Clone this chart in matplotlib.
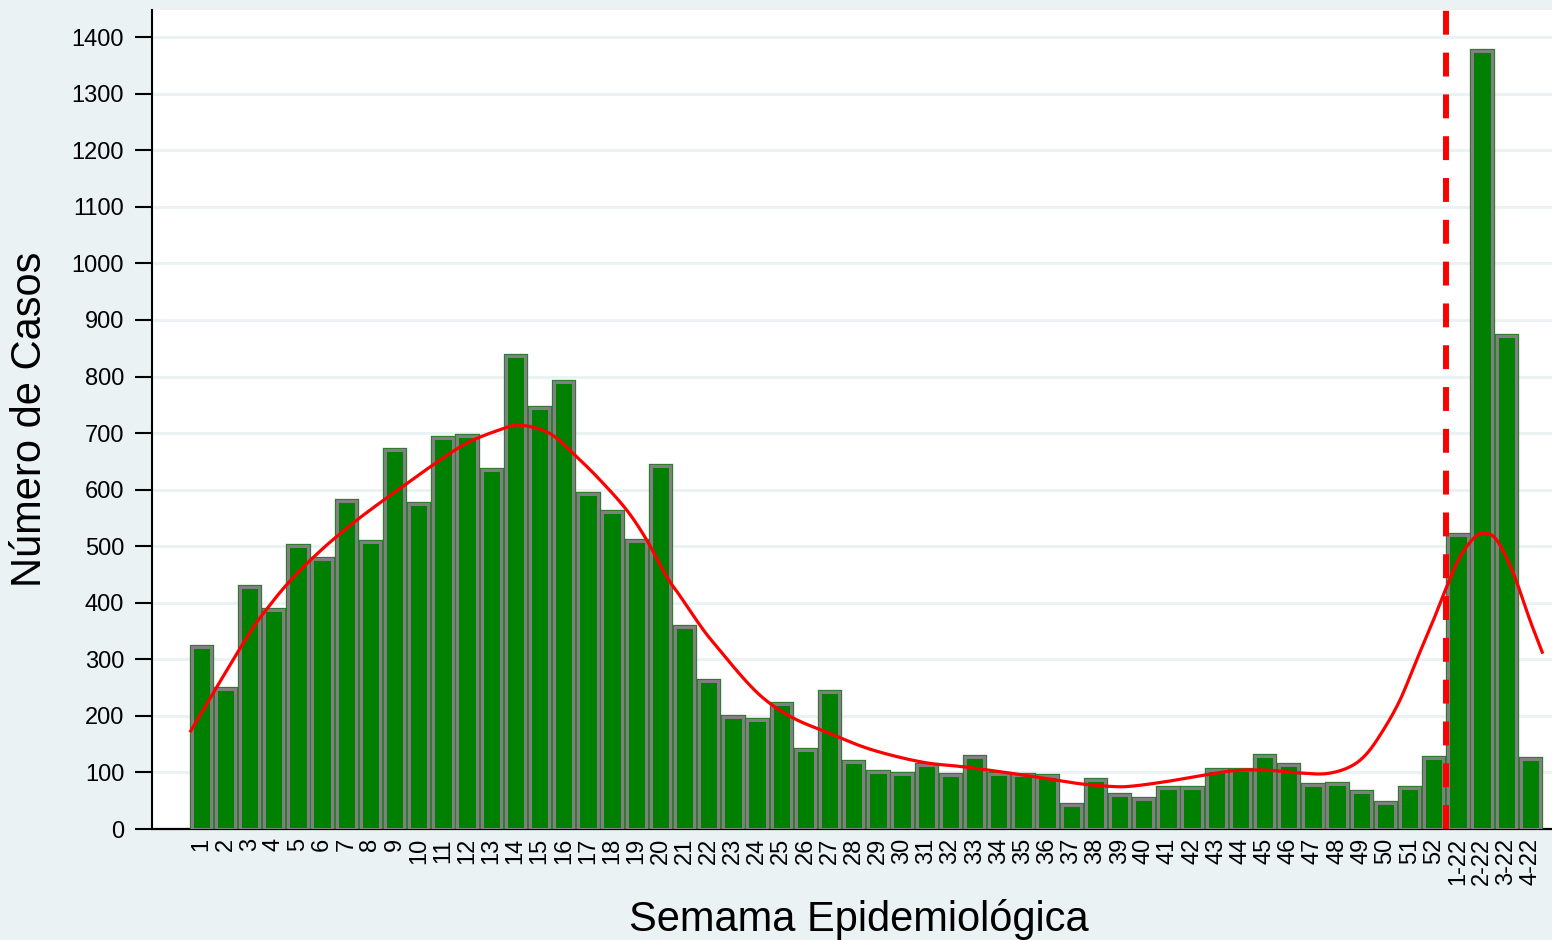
import numpy as np
import matplotlib
matplotlib.use('Agg')
import matplotlib.pyplot as plt
import matplotlib.patheffects as pe

plt.rcParams['font.family'] = ['Liberation Sans', 'DejaVu Sans']

# Semanas epidemiologicas y casos
semanas = [str(i) for i in range(1, 53)] + ['1-22', '2-22', '3-22', '4-22']
casos = [322, 247, 427, 388, 501, 478, 580, 508, 670, 574,
         691, 695, 635, 837, 744, 791, 592, 561, 510, 642,
         357, 262, 198, 192, 221, 139, 243, 119, 101, 97,
         113, 96, 128, 97, 96, 94, 43, 87, 60, 53,
         72, 72, 105, 105, 129, 113, 78, 80, 66, 46,
         73, 126, 520, 1376, 872, 123]

# Curva suavizada (posicion en el eje de semanas, valor)
curva_x = [-0.47, 0.64, 2.02, 2.71, 3.39, 4.08, 4.78, 5.46, 6.43, 7.53,
           8.22, 9.60, 10.98, 12.36, 13.19, 14.43, 15.53, 16.50, 17.60, 18.43,
           19.26, 19.81, 20.64, 21.20, 22.57, 23.53, 24.64, 26.01, 27.40, 28.78,
           30.15, 31.53, 33.60, 34.98, 36.36, 37.74, 38.56, 39.95, 41.33, 42.71,
           44.08, 45.46, 46.57, 47.53, 48.22, 48.91, 49.60, 50.29, 50.98, 51.53,
           52.08, 52.63, 53.05, 53.60, 54.29, 54.98, 55.51]
curva_y = [171, 251, 348, 389, 425, 457, 486, 512, 546, 581,
           602, 644, 682, 706, 714, 699, 658, 617, 564, 511,
           446, 412, 360, 329, 260, 222, 193, 169, 145, 128,
           116, 110, 98, 89, 80, 75, 76, 84, 94, 103,
           104, 99, 98, 110, 133, 175, 228, 299, 369, 428,
           481, 513, 523, 511, 452, 369, 310]

# Corte entre 2021 y 2022
corte = 51.5


def catmull_rom(px, py, n=12):
    # solo para que la linea no se vea quebrada entre puntos leidos
    px = np.asarray(px, float)
    py = np.asarray(py, float)
    P = np.column_stack([px, py])
    P = np.vstack([2 * P[0] - P[1], P, 2 * P[-1] - P[-2]])
    out = []
    t = np.linspace(0, 1, n, endpoint=False)[:, None]
    for i in range(1, len(P) - 2):
        p0, p1, p2, p3 = P[i - 1], P[i], P[i + 1], P[i + 2]
        seg = 0.5 * ((2 * p1) + (-p0 + p2) * t + (2 * p0 - 5 * p1 + 4 * p2 - p3) * t ** 2
                     + (-p0 + 3 * p1 - 3 * p2 + p3) * t ** 3)
        out.append(seg)
    out.append(P[-2][None, :])
    out = np.vstack(out)
    return out[:, 0], out[:, 1]


bg = '#EAF2F3'
fig = plt.figure(figsize=(15.52, 9.40), dpi=100, facecolor=bg)
ax = fig.add_axes([152/1552, 111/940, 1400/1552, 819/940])
ax.set_facecolor('white')

x = np.arange(len(semanas))
ax.bar(x, casos, width=0.8, color='#008000', edgecolor='#808080', linewidth=2.2,
       zorder=3, path_effects=[pe.Stroke(linewidth=3.8, foreground='#2f7a2f'), pe.Normal()])

sx, sy = catmull_rom(curva_x, curva_y)
ax.plot(sx, sy, color='red', linewidth=2.3, zorder=4, solid_capstyle='butt')
ax.axvline(corte, color='red', linewidth=4.3, linestyle=(0, (4, 3)), zorder=5)

ax.set_xlim(-2.04, 55.89)
ax.set_ylim(0, 1448)
ax.set_yticks(np.arange(0, 1401, 100))
ax.set_xticks(x)
ax.set_xticklabels(semanas, rotation=90, fontsize=17)
ax.tick_params(axis='x', length=0, pad=6.5)
ax.tick_params(axis='y', length=12, width=1.5, pad=8, labelsize=17)

ax.grid(True, axis='y', color=bg, linewidth=2.2, zorder=0)
ax.set_axisbelow(True)
for s in ['top', 'right']:
    ax.spines[s].set_visible(False)
ax.spines['left'].set_linewidth(1.5)
ax.spines['bottom'].set_linewidth(1.6)

ax.set_ylabel('Número de Casos', fontsize=30)
ax.yaxis.set_label_coords(-0.073, 0.5)
ax.set_xlabel('Semama Epidemiológica', fontsize=30)
ax.xaxis.set_label_coords(0.505, -0.086)

fig.savefig('out.png', dpi=100, facecolor=bg)
